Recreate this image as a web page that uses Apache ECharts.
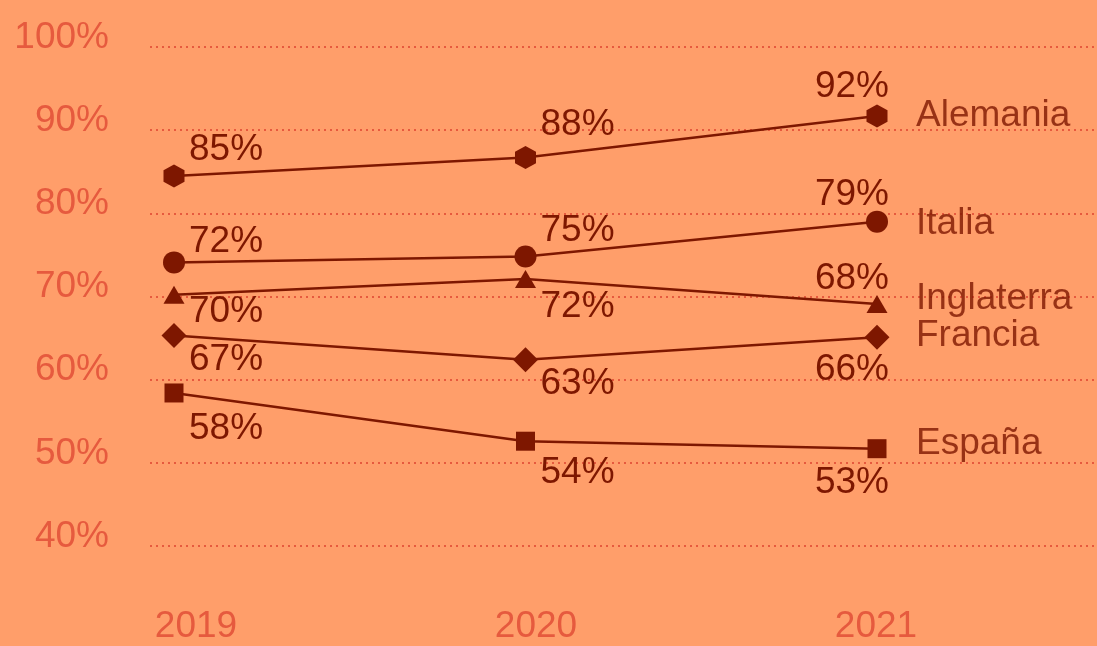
<!DOCTYPE html>
<html>
<head>
<meta charset="utf-8">
<script src="https://cdn.jsdelivr.net/npm/echarts@6/dist/echarts.min.js"></script>
<style>
  html, body { margin: 0; padding: 0; background: #FF9E6A; }
  #chart { width: 1097px; height: 646px; }
</style>
</head>
<body>
<div id="chart"></div>
<script>
// ---- data ----
const years = ['2019', '2020', '2021'];
const countries = ['Alemania', 'Italia', 'Inglaterra', 'Francia', 'España'];
// plotted positions
const alemania   = [84.5, 86.7, 91.7];
const italia     = [74.1, 74.8, 79.0];
const inglaterra = [70.2, 72.1, 69.1];
const francia    = [65.3, 62.4, 65.1];
const espana     = [58.4, 52.6, 51.7];
// printed value labels
const alemaniaLabels   = [85, 88, 92];
const italiaLabels     = [72, 75, 79];
const inglaterraLabels = [70, 72, 68];
const franciaLabels    = [67, 63, 66];
const espanaLabels     = [58, 54, 53];
const yMin = 40, yMax = 100, yStep = 10;

// ---- styling / layout ----
const BG = '#FF9E6A';
const DARK = '#7E1700';
const AXIS = '#E65A3E';
const FONT = '"Liberation Sans", Arial, Helvetica, sans-serif';
const FS = 37;

const seriesValues = [alemania, italia, inglaterra, francia, espana];
const seriesLabels = [alemaniaLabels, italiaLabels, inglaterraLabels, franciaLabels, espanaLabels];
const symbols = [
  'path://M0,-1L0.866,-0.5L0.866,0.5L0,1L-0.866,0.5L-0.866,-0.5Z',
  'circle', 'triangle', 'diamond', 'rect'
];
const symbolSizes = [[21, 23], 22, [21, 18], 25, 19];
// vertical offsets of the value labels (per country, per year)
const labelDy = [
  [-26, -33, -29],
  [-21, -26, -27],
  [17, 28, -25],
  [24, 24, 33],
  [36, 32, 34]
];
const endDy = [0, 2, -5, -1, -5];

const lineSeries = seriesValues.map((vals, s) => ({
  type: 'line',
  name: countries[s],
  xAxisIndex: 1,
  yAxisIndex: 1,
  symbol: symbols[s],
  symbolSize: symbolSizes[s],
  showAllSymbol: true,
  lineStyle: { color: DARK, width: 2.5 },
  itemStyle: { color: DARK },
  z: 3,
  data: vals.map((v, i) => ({
    value: v,
    label: {
      show: true,
      position: 'inside',
      align: i === vals.length - 1 ? 'right' : 'left',
      verticalAlign: 'middle',
      offset: [i === vals.length - 1 ? 12 : 15, labelDy[s][i]],
      formatter: seriesLabels[s][i] + '%',
      color: DARK,
      fontSize: FS,
      fontFamily: FONT
    }
  }))
}));

const endSeries = seriesValues.map((vals, s) => ({
  type: 'scatter',
  xAxisIndex: 1,
  yAxisIndex: 1,
  silent: true,
  symbolSize: 1,
  itemStyle: { color: 'rgba(0,0,0,0)' },
  z: 4,
  data: vals.map((v, i) => (i === vals.length - 1 ? v : '-')),
  label: {
    show: true,
    position: 'inside',
    align: 'left',
    verticalAlign: 'middle',
    offset: [39, endDy[s]],
    formatter: countries[s],
    color: DARK,
    fontSize: FS,
    fontFamily: FONT
  }
}));

const chart = echarts.init(document.getElementById('chart'), null, { renderer: 'canvas' });
chart.setOption({
  animation: false,
  backgroundColor: BG,
  textStyle: { fontFamily: FONT },
  grid: [
    { left: 150, right: 0, top: 47, bottom: 100 },
    { left: 174, right: 220, top: 47, bottom: 100 },
    { left: 196, right: 221, top: 47, bottom: 100 }
  ],
  xAxis: [
    { gridIndex: 0, type: 'value', show: false },
    { gridIndex: 1, type: 'category', data: years, boundaryGap: false, show: false },
    {
      gridIndex: 2, type: 'category', data: years, boundaryGap: false,
      axisLine: { show: false }, axisTick: { show: false }, splitLine: { show: false },
      axisLabel: { color: AXIS, fontSize: FS, fontFamily: FONT, margin: 62 }
    }
  ],
  yAxis: [
    {
      gridIndex: 0, type: 'value', min: yMin, max: yMax, interval: yStep,
      axisLine: { show: false }, axisTick: { show: false },
      axisLabel: {
        formatter: '{value}%', color: AXIS, fontSize: FS, fontFamily: FONT,
        margin: 41, verticalAlign: 'bottom', lineHeight: 19
      },
      splitLine: { show: true, lineStyle: { color: AXIS, width: 2, type: [2, 4] } }
    },
    { gridIndex: 1, type: 'value', min: yMin, max: yMax, interval: yStep, show: false, splitLine: { show: false } },
    { gridIndex: 2, type: 'value', min: yMin, max: yMax, interval: yStep, show: false, splitLine: { show: false } }
  ],
  series: [...lineSeries, ...endSeries]
});
</script>
</body>
</html>
